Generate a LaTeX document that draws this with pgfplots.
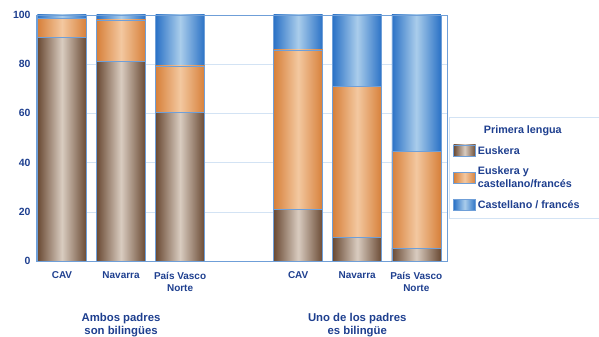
\documentclass[border=0pt]{standalone}
\usepackage{pgfplots}
\pgfplotsset{compat=1.18}
\usepackage{fontspec}
\setmainfont{Liberation Sans}
\definecolor{txt}{HTML}{1E3F8F}
\definecolor{linec}{HTML}{6F9FD8}
\definecolor{gridc}{HTML}{D3E3F4}
\definecolor{brD}{HTML}{6A4A34}
\definecolor{brL}{HTML}{D9CCC0}
\definecolor{orD}{HTML}{D7803A}
\definecolor{orL}{HTML}{F3C8A0}
\definecolor{blD}{HTML}{2B72C6}
\definecolor{blL}{HTML}{AACDEB}
\pgfplotsset{
  bro/.style={draw=linec, line width=0.5pt, left color=brD, right color=brD, middle color=brL},
  ora/.style={draw=linec, line width=0.5pt, left color=orD, right color=orD, middle color=orL},
  blu/.style={draw=linec, line width=0.5pt, left color=blD, right color=blD, middle color=blL},
}
% cumulative tops: Euskera, Euskera + bilingual, total
\newcommand{\stackbar}[3]{%
  \addplot[blu, forget plot] coordinates {(#1,100)};
  \addplot[ora, forget plot] coordinates {(#1,#3)};
  \addplot[bro, forget plot] coordinates {(#1,#2)};
}
\begin{document}
\begin{tikzpicture}
\path[use as bounding box] (-36bp,-76bp) rectangle (563bp,261bp);
\begin{axis}[
  at={(0,0)}, anchor=south west,
  scale only axis, width=411bp, height=246bp,
  ybar, bar width=49bp, bar shift=0pt,
  xmin=-0.44, xmax=6.52, ymin=0, ymax=100,
  xtick={0,1,2,4,5,6},
  xticklabels={CAV,Navarra,País Vasco\\Norte,CAV,Navarra,País Vasco\\Norte},
  x tick label style={align=center, font=\bfseries\fontsize{10}{12}\selectfont, text=txt, yshift=-7.5bp},
  ytick={0,20,40,60,80,100},
  y tick label style={font=\bfseries\fontsize{10.5}{12}\selectfont, text=txt, xshift=-2bp},
  /pgf/number format/assume math mode=true,
  ymajorgrids, grid style={gridc, line width=0.6pt},
  axis line style={linec, line width=0.8pt},
  major tick length=0pt,
  clip=false,
  legend cell align=left,
  legend style={at={(1.005,0.585)}, anchor=north west, draw=gridc, line width=0.8pt,
    font=\bfseries\fontsize{10.8}{13}\selectfont, text=txt,
    nodes={align=left}, row sep=7.5pt, inner xsep=4pt, inner ysep=6pt},
  legend image code/.code={\draw[#1] (0bp,-5bp) rectangle (22bp,6bp);},
]
\addlegendimage{empty legend}
\addlegendentry{\hspace{6bp}Primera lengua\hspace{35bp}}
\addlegendimage{bro}
\addlegendentry{Euskera}
\addlegendimage{ora}
\addlegendentry{Euskera y\\castellano/francés}
\addlegendimage{blu}
\addlegendentry{Castellano / francés}
\stackbar{0}{91}{98.7}
\stackbar{1}{81}{98}
\stackbar{2}{60.3}{79.3}
\stackbar{4}{21}{85.8}
\stackbar{5}{9.5}{71}
\stackbar{6}{5}{44.6}
\node[align=center, font=\bfseries\fontsize{11.4}{12.5}\selectfont, text=txt] at (axis cs:1,0) [yshift=-64bp] {Ambos padres\\son bilingües};
\node[align=center, font=\bfseries\fontsize{11.4}{12.5}\selectfont, text=txt] at (axis cs:5,0) [yshift=-64bp] {Uno de los padres\\es bilingüe};
\end{axis}
\end{tikzpicture}
\end{document}
